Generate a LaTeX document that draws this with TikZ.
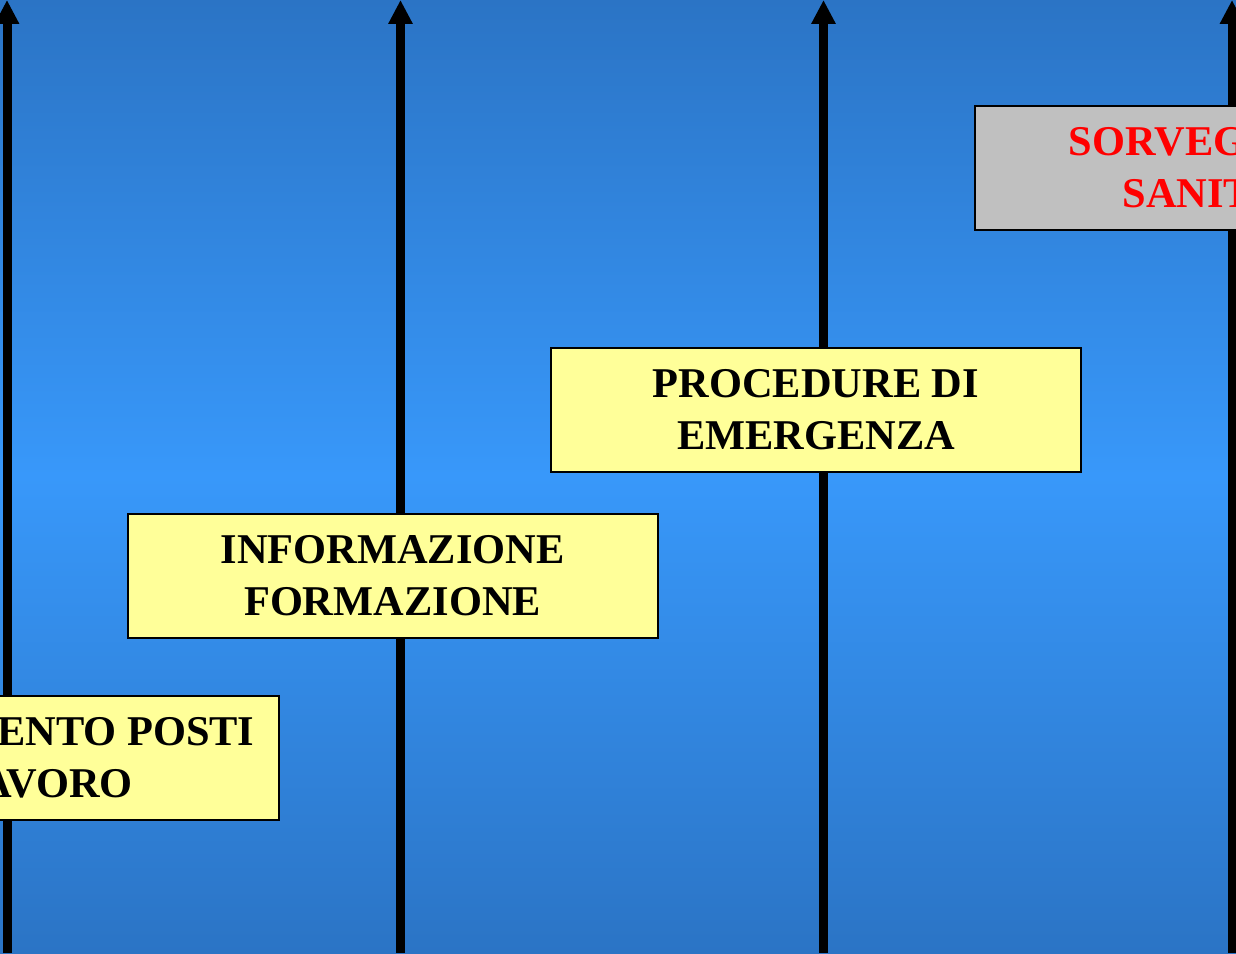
\documentclass[tikz,border=0pt]{standalone}
\usepackage{fontspec}
\setmainfont{Liberation Serif}
\usetikzlibrary{arrows.meta}
\usetikzlibrary{positioning}
\definecolor{bgedge}{RGB}{43,116,197}
\definecolor{bgmid}{RGB}{56,152,250}
\definecolor{boxyellow}{RGB}{255,255,153}
\definecolor{boxgray}{RGB}{192,192,192}

\begin{document}
\begin{tikzpicture}
	[
		x = 0.5pt, y = 0.5pt,
		timeline/.style = {line width = 4.5pt, -{Triangle[length = 12pt, width = 11.5pt]}},
		stepbox/.style = {rectangle, minimum width = 265pt, minimum height = 62pt, draw = black, line width = 1pt, fill = boxyellow, align = center, font = \fontsize{21.2}{26}\selectfont\bfseries},
		lastbox/.style = {stepbox, fill = boxgray, text = red},
	]
	\useasboundingbox (0,0) rectangle (1236,953);
	\clip (0,0) rectangle (1236,953);
	% background
	\shade [top color = bgedge, bottom color = bgedge, middle color = bgmid] (0,0) rectangle (1236,953);
	% time lines
	\foreach \x [count = \i] in {7, 400.5, 823.5, 1232}
	{
		\coordinate (base\i) at (\x,0);
		\coordinate (tip\i) at (\x,953);
		\draw [timeline] (base\i) -- (tip\i);
	}
	% steps
	\node (posti) [stepbox] at (14,195) {ADEGUAMENTO POSTI\\DI LAVORO};
	\node (formazione) [stepbox] at (392.5,377) {INFORMAZIONE\\FORMAZIONE};
	\node (emergenza) [stepbox] at (816,543) {PROCEDURE DI\\EMERGENZA};
	\node (sorveglianza) [lastbox] at (1240,785) {SORVEGLIANZA\\SANITARIA};
\end{tikzpicture}
\end{document}
